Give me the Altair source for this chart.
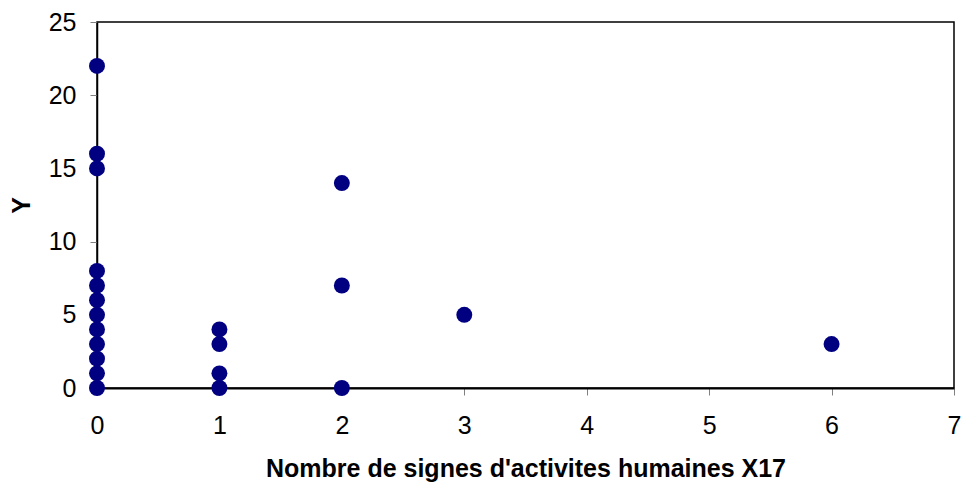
import altair as alt
import pandas as pd

# Observations: number of human activity signs (X17) vs response Y
x17 = [0, 0, 0, 0, 0, 0, 0, 0, 0, 0, 0, 0,
       1, 1, 1, 1,
       2, 2, 2,
       3,
       6]
y_vals = [0, 1, 2, 3, 4, 5, 6, 7, 8, 15, 16, 22,
          0, 1, 3, 4,
          0, 7, 14,
          5,
          3]

df = pd.DataFrame({"X17": x17, "Y": y_vals})

FONT = "Liberation Sans"

chart = (
    alt.Chart(df)
    .mark_circle(size=255, color="#000080", opacity=1)
    .encode(
        x=alt.X(
            "X17:Q",
            scale=alt.Scale(domain=[0, 7], nice=False, zero=True),
            axis=alt.Axis(
                title="Nombre de signes d'activites humaines X17",
                values=[0, 1, 2, 3, 4, 5, 6, 7],
                format="d",
                grid=False,
                domainColor="black",
                domainWidth=2,
                tickColor="#808080",
                tickSize=7,
                labelFlush=False,
                labelFontSize=25,
                labelPadding=18,
                labelFont=FONT,
                labelColor="black",
                titleFont=FONT,
                titleFontSize=25,
                titleFontWeight="bold",
                titleColor="black",
                titlePadding=18,
            ),
        ),
        y=alt.Y(
            "Y:Q",
            scale=alt.Scale(domain=[0, 25], nice=False),
            axis=alt.Axis(
                title="Y",
                values=[0, 5, 10, 15, 20, 25],
                grid=False,
                domainColor="black",
                domainWidth=1.5,
                tickColor="#808080",
                tickSize=7,
                labelFlush=False,
                labelFontSize=25,
                labelPadding=14,
                labelFont=FONT,
                labelColor="black",
                titleFont=FONT,
                titleFontSize=25,
                titleFontWeight="bold",
                titleColor="black",
                titlePadding=14,
            ),
        ),
    )
    .properties(
        width=857,
        height=366,
        background="white",
        autosize=alt.AutoSizeParams(type="none"),
        padding={"left": 97, "top": 22, "right": 12, "bottom": 98},
    )
    .configure_view(stroke="black", strokeWidth=1.5)
)

chart.save("out.html", embed_options={"renderer": "svg", "actions": False})
